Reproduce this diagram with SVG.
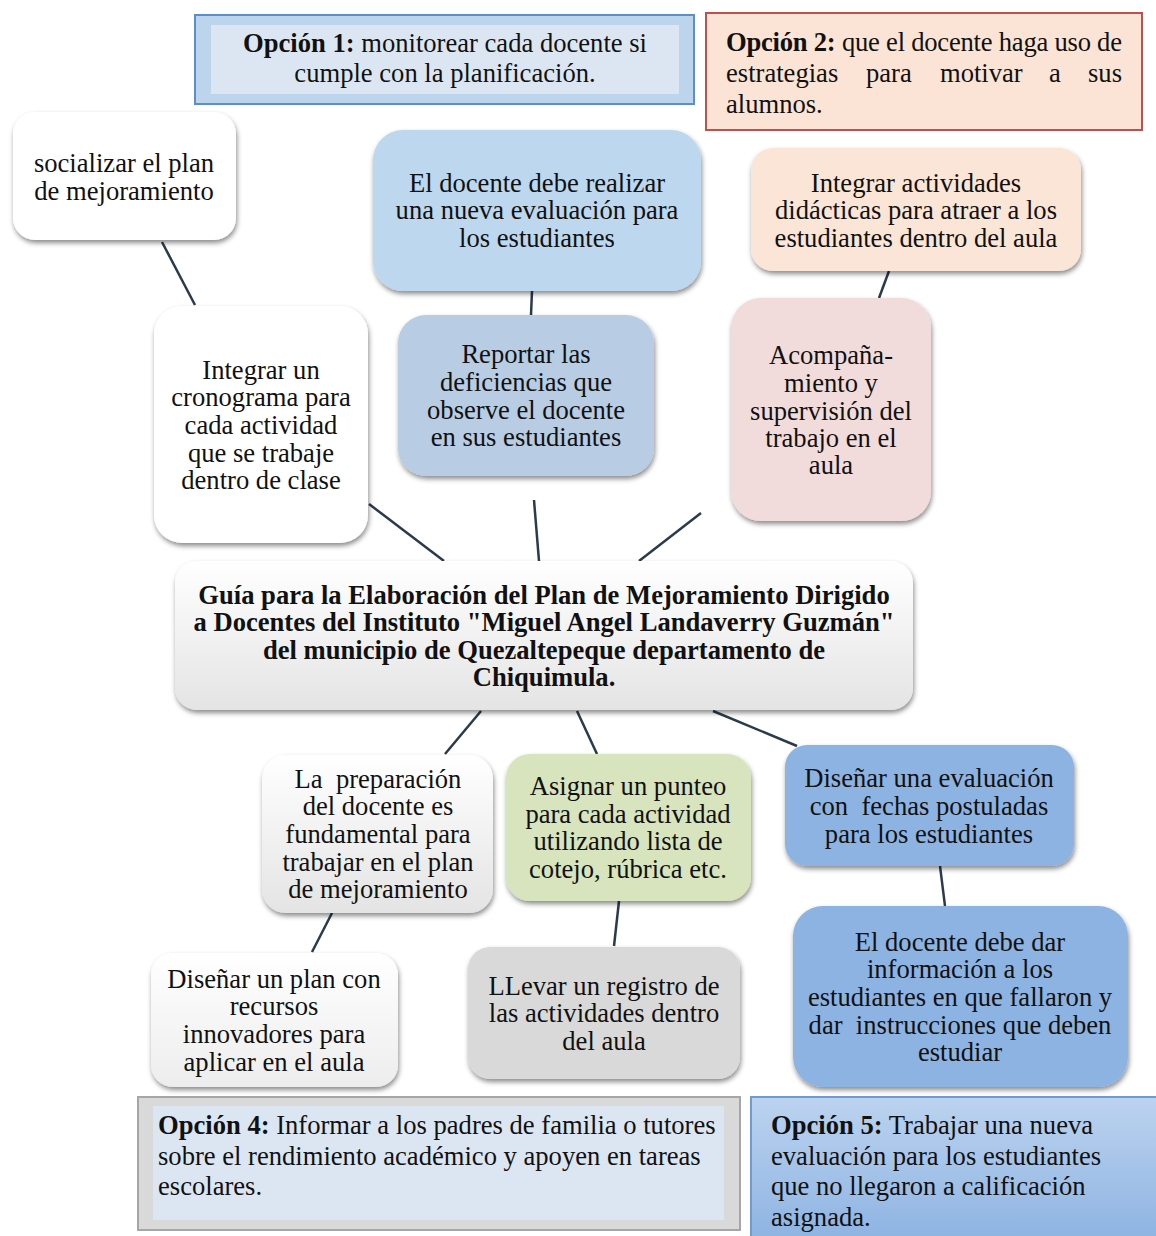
<svg xmlns="http://www.w3.org/2000/svg" width="1156" height="1236" viewBox="0 0 1156 1236">
<style>
text{font-family:"Liberation Serif","Times New Roman",serif;font-size:26.6px;fill:#111;white-space:pre}
.c{text-anchor:middle}
.b{font-weight:bold}
.t{font-weight:bold;text-anchor:middle}
.conn line{stroke:#2b3a4c;stroke-width:2.5}
</style>
<defs>
<filter id="sh" x="-10%" y="-10%" width="125%" height="130%">
<feDropShadow dx="1" dy="3" stdDeviation="2.5" flood-color="#000" flood-opacity="0.45"/>
</filter>
<linearGradient id="gw" x1="0" y1="0" x2="0" y2="1"><stop offset="0" stop-color="#ffffff"/><stop offset="1" stop-color="#e4e4e4"/></linearGradient>
<linearGradient id="gw2" x1="0" y1="0" x2="0" y2="1"><stop offset="0" stop-color="#ffffff"/><stop offset="1" stop-color="#ededed"/></linearGradient>
<linearGradient id="g5" x1="0" y1="0" x2="0" y2="1"><stop offset="0" stop-color="#bcd3ef"/><stop offset="1" stop-color="#8db3e2"/></linearGradient>
</defs>

<g class="conn">
<line x1="162" y1="242" x2="195" y2="305"/>
<line x1="369" y1="504" x2="444" y2="561"/>
<line x1="534" y1="500" x2="539" y2="561"/>
<line x1="701" y1="513" x2="639" y2="561"/>
<line x1="532" y1="291" x2="531" y2="315"/>
<line x1="889" y1="271" x2="879" y2="298"/>
<line x1="481" y1="711" x2="445" y2="754"/>
<line x1="577" y1="711" x2="597" y2="754"/>
<line x1="713" y1="711" x2="797" y2="746"/>
<line x1="332" y1="913" x2="312" y2="952"/>
<line x1="619" y1="901" x2="614" y2="946"/>
<line x1="940" y1="866" x2="945" y2="906"/>
</g>

<g id="opcion1">
<rect x="195" y="15" width="499" height="89" fill="#bcd5ec" stroke="#5b8fc9" stroke-width="2"/>
<rect x="211" y="25" width="468" height="69" fill="#dce6f2"/>
<text class="c" x="445" y="52"><tspan class="b">Opción 1:</tspan> monitorear cada docente si</text>
<text class="c" x="445" y="82">cumple con la planificación.</text>
</g>

<g id="opcion2">
<rect x="706" y="13" width="436" height="117" fill="#fbe4d5" stroke="#c0504d" stroke-width="2"/>
<text x="726" y="51" textLength="396" lengthAdjust="spacing"><tspan class="b">Opción 2:</tspan> que el docente haga uso de</text>
<text x="726" y="82">estrategias</text>
<text x="866" y="82">para</text>
<text x="940" y="82">motivar</text>
<text x="1049" y="82">a</text>
<text x="1122" y="82" style="text-anchor:end">sus</text>
<text x="726" y="113">alumnos.</text>
</g>

<g id="socializar">
<rect x="13" y="112" width="223" height="128" rx="22" fill="#ffffff" filter="url(#sh)"/>
<text class="c" x="124" y="172">socializar el plan</text>
<text class="c" x="124" y="200">de mejoramiento</text>
</g>

<g id="cronograma">
<rect x="154" y="306" width="214" height="237" rx="28" fill="#ffffff" filter="url(#sh)"/>
<text class="c" x="261" y="379">Integrar un</text>
<text class="c" x="261" y="406">cronograma para</text>
<text class="c" x="261" y="434">cada actividad</text>
<text class="c" x="261" y="462">que se trabaje</text>
<text class="c" x="261" y="489">dentro de clase</text>
</g>

<g id="nueva-evaluacion">
<rect x="373" y="130" width="328" height="161" rx="30" fill="#bdd7ee" filter="url(#sh)"/>
<text class="c" x="537" y="192">El docente debe realizar</text>
<text class="c" x="537" y="219">una nueva evaluación para</text>
<text class="c" x="537" y="247">los estudiantes</text>
</g>

<g id="reportar">
<rect x="398" y="315" width="256" height="161" rx="28" fill="#b8cce4" filter="url(#sh)"/>
<text class="c" x="526" y="363">Reportar las</text>
<text class="c" x="526" y="391">deficiencias que</text>
<text class="c" x="526" y="419">observe el docente</text>
<text class="c" x="526" y="446">en sus estudiantes</text>
</g>

<g id="integrar-actividades">
<rect x="751" y="148" width="330" height="123" rx="22" fill="#fbe5d6" filter="url(#sh)"/>
<text class="c" x="916" y="192">Integrar actividades</text>
<text class="c" x="916" y="219">didácticas para atraer a los</text>
<text class="c" x="916" y="247">estudiantes dentro del aula</text>
</g>

<g id="acompanamiento">
<rect x="731" y="298" width="200" height="223" rx="30" fill="#f2dcdb" filter="url(#sh)"/>
<text class="c" x="831" y="364">Acompaña-</text>
<text class="c" x="831" y="392">miento y</text>
<text class="c" x="831" y="420">supervisión del</text>
<text class="c" x="831" y="447">trabajo en el</text>
<text class="c" x="831" y="474">aula</text>
</g>

<g id="guia">
<rect x="175" y="561" width="738" height="149" rx="22" fill="url(#gw)" filter="url(#sh)"/>
<text class="t" x="544" y="604">Guía para la Elaboración del Plan de Mejoramiento Dirigido</text>
<text class="t" x="544" y="631">a Docentes del Instituto "Miguel Angel Landaverry Guzmán"</text>
<text class="t" x="544" y="659">del municipio de Quezaltepeque departamento de</text>
<text class="t" x="544" y="686">Chiquimula.</text>
</g>

<g id="preparacion">
<rect x="262" y="755" width="231" height="158" rx="24" fill="url(#gw)" filter="url(#sh)"/>
<text class="c" x="378" y="788">La  preparación</text>
<text class="c" x="378" y="815">del docente es</text>
<text class="c" x="378" y="843">fundamental para</text>
<text class="c" x="378" y="871">trabajar en el plan</text>
<text class="c" x="378" y="898">de mejoramiento</text>
</g>

<g id="asignar">
<rect x="506" y="754" width="245" height="147" rx="24" fill="#d7e4bd" filter="url(#sh)"/>
<text class="c" x="628" y="795">Asignar un punteo</text>
<text class="c" x="628" y="823">para cada actividad</text>
<text class="c" x="628" y="850">utilizando lista de</text>
<text class="c" x="628" y="878">cotejo, rúbrica etc.</text>
</g>

<g id="disenar-evaluacion">
<rect x="785" y="745" width="289" height="121" rx="22" fill="#8db3e2" filter="url(#sh)"/>
<text class="c" x="929" y="787">Diseñar una evaluación</text>
<text class="c" x="929" y="815">con  fechas postuladas</text>
<text class="c" x="929" y="843">para los estudiantes</text>
</g>

<g id="docente-dar">
<rect x="793" y="906" width="335" height="181" rx="30" fill="#8db3e2" filter="url(#sh)"/>
<text class="c" x="960" y="951">El docente debe dar</text>
<text class="c" x="960" y="978">información a los</text>
<text class="c" x="960" y="1006">estudiantes en que fallaron y</text>
<text class="c" x="960" y="1034">dar  instrucciones que deben</text>
<text class="c" x="960" y="1061">estudiar</text>
</g>

<g id="disenar-plan">
<rect x="151" y="953" width="247" height="134" rx="22" fill="url(#gw2)" filter="url(#sh)"/>
<text class="c" x="274" y="988">Diseñar un plan con</text>
<text class="c" x="274" y="1015">recursos</text>
<text class="c" x="274" y="1043">innovadores para</text>
<text class="c" x="274" y="1071">aplicar en el aula</text>
</g>

<g id="llevar">
<rect x="468" y="947" width="272" height="132" rx="22" fill="#d9d9d9" filter="url(#sh)"/>
<text class="c" x="604" y="995">LLevar un registro de</text>
<text class="c" x="604" y="1022">las actividades dentro</text>
<text class="c" x="604" y="1050">del aula</text>
</g>

<g id="opcion4">
<rect x="138" y="1097" width="602" height="133" fill="#d9d9d9" stroke="#a6a6a6" stroke-width="2"/>
<rect x="153" y="1106" width="571" height="114" fill="#dce6f2"/>
<text x="158" y="1134"><tspan class="b">Opción 4:</tspan> Informar a los padres de familia o tutores</text>
<text x="158" y="1165">sobre el rendimiento académico y apoyen en tareas</text>
<text x="158" y="1195">escolares.</text>
</g>

<g id="opcion5">
<rect x="751" y="1097" width="410" height="145" fill="url(#g5)" stroke="#6f9bd4" stroke-width="2"/>
<text x="771" y="1134"><tspan class="b">Opción 5:</tspan> Trabajar una nueva</text>
<text x="771" y="1165">evaluación para los estudiantes</text>
<text x="771" y="1195">que no llegaron a calificación</text>
<text x="771" y="1226">asignada.</text>
</g>
</svg>
